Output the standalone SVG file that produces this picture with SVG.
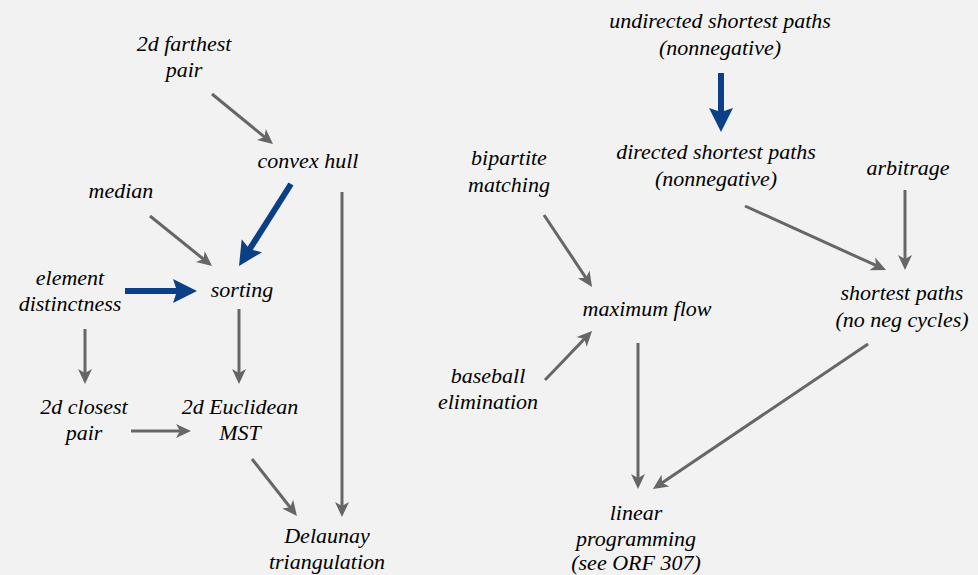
<svg xmlns="http://www.w3.org/2000/svg" width="978" height="575" viewBox="0 0 978 575">
<defs>
<marker id="ag" markerUnits="userSpaceOnUse" viewBox="-16 -8 17 16" refX="-8" refY="0" markerWidth="17" markerHeight="16" orient="auto">
<path d="M0,0 L-15,-7 L-11,0 L-15,7 Z" fill="#666"/>
</marker>
<marker id="ab" markerUnits="userSpaceOnUse" viewBox="-26 -13 27 26" refX="-14" refY="0" markerWidth="27" markerHeight="26" orient="auto">
<path d="M0,0 L-24,-12 L-20,0 L-24,12 Z" fill="#0b3f86"/>
</marker>
</defs>
<rect width="978" height="575" fill="#f2f2f2"/>
<g id="connectors" fill="none">
<g stroke="#666" stroke-width="3" marker-end="url(#ag)">
<line x1="212" y1="94" x2="266.8" y2="138.9"/>
<line x1="150" y1="216" x2="205.8" y2="261"/>
<line x1="85" y1="329" x2="85" y2="376"/>
<line x1="239" y1="309" x2="239" y2="376"/>
<line x1="342" y1="192" x2="342" y2="509"/>
<line x1="131" y1="431" x2="183" y2="431"/>
<line x1="252" y1="459" x2="292" y2="509.7"/>
<line x1="745" y1="206" x2="878.7" y2="266.7"/>
<line x1="905" y1="190" x2="905" y2="262"/>
<line x1="544" y1="215" x2="587.6" y2="280.3"/>
<line x1="545" y1="380" x2="586.5" y2="336.8"/>
<line x1="638" y1="343" x2="638" y2="481"/>
<line x1="868" y1="344" x2="659.6" y2="484.5"/>
</g>
<g stroke="#0b3f86" stroke-width="6" marker-end="url(#ab)">
<line x1="291" y1="184" x2="246.5" y2="254.2"/>
<line x1="125" y1="291" x2="183" y2="291"/>
<line x1="721" y1="73" x2="721" y2="118"/>
</g>
</g>
<g id="farthest"><text x="184" y="51" style="font-family:'Liberation Serif',serif;font-style:italic;font-size:22px;text-anchor:middle">2d farthest</text><text x="184" y="77" style="font-family:'Liberation Serif',serif;font-style:italic;font-size:22px;text-anchor:middle">pair</text></g>
<g id="convexhull"><text x="308" y="168" style="font-family:'Liberation Serif',serif;font-style:italic;font-size:22px;text-anchor:middle">convex hull</text></g>
<g id="median"><text x="121" y="198" style="font-family:'Liberation Serif',serif;font-style:italic;font-size:22px;text-anchor:middle">median</text></g>
<g id="distinctness"><text x="70" y="285" style="font-family:'Liberation Serif',serif;font-style:italic;font-size:22px;text-anchor:middle">element</text><text x="70" y="311" style="font-family:'Liberation Serif',serif;font-style:italic;font-size:22px;text-anchor:middle">distinctness</text></g>
<g id="sorting"><text x="242" y="297" style="font-family:'Liberation Serif',serif;font-style:italic;font-size:22px;text-anchor:middle">sorting</text></g>
<g id="closest"><text x="84" y="414" style="font-family:'Liberation Serif',serif;font-style:italic;font-size:22px;text-anchor:middle">2d closest</text><text x="84" y="440" style="font-family:'Liberation Serif',serif;font-style:italic;font-size:22px;text-anchor:middle">pair</text></g>
<g id="mst"><text x="240" y="414" style="font-family:'Liberation Serif',serif;font-style:italic;font-size:22px;text-anchor:middle">2d Euclidean</text><text x="240" y="440" style="font-family:'Liberation Serif',serif;font-style:italic;font-size:22px;text-anchor:middle">MST</text></g>
<g id="delaunay"><text x="327" y="543" style="font-family:'Liberation Serif',serif;font-style:italic;font-size:22px;text-anchor:middle">Delaunay</text><text x="327" y="569" style="font-family:'Liberation Serif',serif;font-style:italic;font-size:22px;text-anchor:middle">triangulation</text></g>
<g id="undirected"><text x="720" y="28" style="font-family:'Liberation Serif',serif;font-style:italic;font-size:22px;text-anchor:middle">undirected shortest paths</text><text x="720" y="55" style="font-family:'Liberation Serif',serif;font-style:italic;font-size:22px;text-anchor:middle">(nonnegative)</text></g>
<g id="directed"><text x="716" y="159" style="font-family:'Liberation Serif',serif;font-style:italic;font-size:22px;text-anchor:middle">directed shortest paths</text><text x="716" y="186" style="font-family:'Liberation Serif',serif;font-style:italic;font-size:22px;text-anchor:middle">(nonnegative)</text></g>
<g id="arbitrage"><text x="908" y="175" style="font-family:'Liberation Serif',serif;font-style:italic;font-size:22px;text-anchor:middle">arbitrage</text></g>
<g id="bipartite"><text x="509" y="165" style="font-family:'Liberation Serif',serif;font-style:italic;font-size:22px;text-anchor:middle">bipartite</text><text x="509" y="192" style="font-family:'Liberation Serif',serif;font-style:italic;font-size:22px;text-anchor:middle">matching</text></g>
<g id="maxflow"><text x="647" y="316" style="font-family:'Liberation Serif',serif;font-style:italic;font-size:22px;text-anchor:middle">maximum flow</text></g>
<g id="shortest"><text x="902" y="300" style="font-family:'Liberation Serif',serif;font-style:italic;font-size:22px;text-anchor:middle">shortest paths</text><text x="902" y="327" style="font-family:'Liberation Serif',serif;font-style:italic;font-size:22px;text-anchor:middle">(no neg cycles)</text></g>
<g id="baseball"><text x="488" y="383" style="font-family:'Liberation Serif',serif;font-style:italic;font-size:22px;text-anchor:middle">baseball</text><text x="488" y="409" style="font-family:'Liberation Serif',serif;font-style:italic;font-size:22px;text-anchor:middle">elimination</text></g>
<g id="linear"><text x="636" y="520" style="font-family:'Liberation Serif',serif;font-style:italic;font-size:22px;text-anchor:middle">linear</text><text x="636" y="546" style="font-family:'Liberation Serif',serif;font-style:italic;font-size:22px;text-anchor:middle">programming</text><text x="636" y="570" style="font-family:'Liberation Serif',serif;font-style:italic;font-size:22px;text-anchor:middle">(see ORF 307)</text></g>
</svg>
